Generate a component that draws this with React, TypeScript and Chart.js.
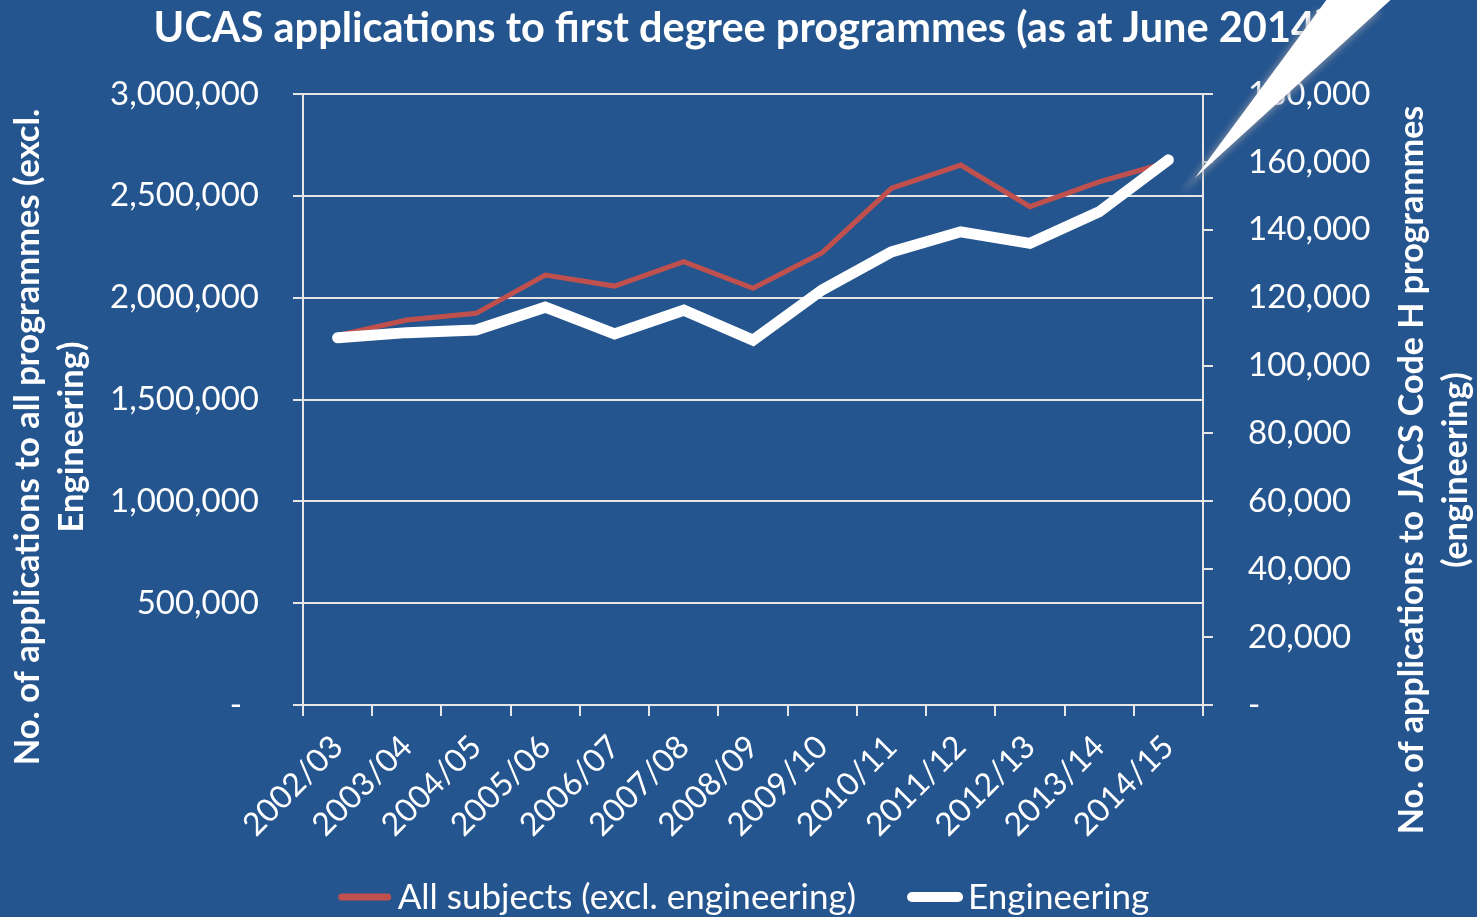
import React, { useEffect, useRef } from 'react';
import { Chart, registerables } from 'chart.js';

Chart.register(...registerables);

const categories = ['2002/03', '2003/04', '2004/05', '2005/06', '2006/07', '2007/08', '2008/09', '2009/10', '2010/11', '2011/12', '2012/13', '2013/14', '2014/15'];
const allSubjects = [1815000, 1890000, 1923000, 2111000, 2057000, 2177000, 2046000, 2221000, 2537000, 2651000, 2447000, 2569000, 2665000];
const engineering = [108200, 109700, 110500, 117200, 109300, 116300, 107500, 122300, 133500, 139400, 136000, 145300, 160600];

const titleText = 'UCAS applications to first degree programmes (as at June 2014)';
const leftTitle = ['No. of applications to all programmes (excl.', 'Engineering)'];
const rightTitle = ['No. of applications to JACS Code H programmes', '(engineering)'];
const seriesNames = ['All subjects (excl. engineering)', 'Engineering'];

const BG = '#25558F';
const RED = '#C0504D';
const FONT = 'Lato, "Open Sans", sans-serif';

const fmt = (v: number) => Math.round(v).toLocaleString('en-US');

const decorPlugin = {
  id: 'decor',
  beforeDraw(chart: any) {
    const ctx = chart.ctx;
    ctx.save();
    ctx.fillStyle = BG;
    ctx.fillRect(0, 0, chart.width, chart.height);
    ctx.restore();
  },
  afterDraw(chart: any) {
    const ctx = chart.ctx;
    const area = chart.chartArea;
    ctx.save();
    ctx.fillStyle = '#FFFFFF';
    ctx.textAlign = 'center';
    ctx.textBaseline = 'middle';
    // title
    ctx.font = `bold 41.5px ${FONT}`;
    ctx.fillText(titleText, 740, 29);

    // left axis title
    ctx.font = `bold 34.5px ${FONT}`;
    const ly = 437;
    ctx.save();
    ctx.translate(28, ly);
    ctx.rotate(-Math.PI / 2);
    ctx.fillText(leftTitle[0], 0, 0);
    ctx.restore();
    ctx.save();
    ctx.translate(72, ly);
    ctx.rotate(-Math.PI / 2);
    ctx.fillText(leftTitle[1], 0, 0);
    ctx.restore();

    // right axis title
    ctx.font = `bold 34px ${FONT}`;
    const ry = 470;
    ctx.save();
    ctx.translate(1412, ry);
    ctx.rotate(-Math.PI / 2);
    ctx.fillText(rightTitle[0], 0, 0);
    ctx.restore();
    ctx.save();
    ctx.translate(1456, ry);
    ctx.rotate(-Math.PI / 2);
    ctx.fillText(rightTitle[1], 0, 0);
    ctx.restore();

    // legend
    ctx.font = `35px ${FONT}`;
    ctx.textAlign = 'left';
    const ds = chart.data.datasets;
    const sw = 54;
    const gap = 6;
    const itemGap = 52;
    const widths = ds.map((d: any) => sw + gap + ctx.measureText(d.label).width);
    const total = widths.reduce((a: number, b: number) => a + b, 0) + itemGap * (ds.length - 1);
    let x = chart.width / 2 + 5 - total / 2;
    const yL = 897;
    ds.forEach((d: any, i: number) => {
      ctx.strokeStyle = d.borderColor;
      ctx.lineWidth = d.borderWidth > 6 ? 10 : 7;
      ctx.lineCap = 'round';
      ctx.beginPath();
      ctx.moveTo(x + 4, yL);
      ctx.lineTo(x + sw - 4, yL);
      ctx.stroke();
      ctx.fillStyle = '#FFFFFF';
      ctx.fillText(d.label, x + sw + gap, yL + 1);
      x += widths[i] + itemGap;
    });

    // callout wedge decoration (top right)
    ctx.save();
    ctx.shadowColor = 'rgba(140,150,165,0.75)';
    ctx.shadowBlur = 6;
    ctx.shadowOffsetX = -14;
    ctx.shadowOffsetY = 16;
    ctx.fillStyle = '#FFFFFF';
    ctx.beginPath();
    ctx.moveTo(area.right - 8, 178);
    ctx.lineTo(1330, -5);
    ctx.lineTo(1396, -5);
    ctx.closePath();
    ctx.fill();
    ctx.restore();
    ctx.restore();
  },
};

export default function App() {
  const ref = useRef<HTMLCanvasElement | null>(null);
  useEffect(() => {
    document.body.style.margin = '0';
    const canvas = ref.current!;
    const chart = new Chart(canvas, {
      type: 'line',
      data: {
        labels: categories,
        datasets: [
          {
            label: seriesNames[0],
            data: allSubjects,
            yAxisID: 'y',
            borderColor: RED,
            backgroundColor: RED,
            borderWidth: 5,
            pointRadius: 0,
            tension: 0,
            order: 1,
          },
          {
            label: seriesNames[1],
            data: engineering,
            yAxisID: 'y1',
            borderColor: '#FFFFFF',
            backgroundColor: '#FFFFFF',
            borderWidth: 11,
            borderCapStyle: 'round',
            pointRadius: 0,
            tension: 0,
            order: 0,
          },
        ],
      },
      options: {
        responsive: false,
        animation: false,
        devicePixelRatio: 1,
        layout: { padding: { top: 94, left: 0, right: 0, bottom: 0 } },
        plugins: {
          legend: { display: false },
          title: { display: false },
          tooltip: { enabled: false },
        },
        scales: {
          x: {
            type: 'category',
            offset: true,
            grid: {
              offset: true,
              drawOnChartArea: false,
              drawTicks: true,
              tickLength: 11,
              color: '#E6E6E6',
              lineWidth: 2,
            },
            border: { display: true, color: '#E6E6E6', width: 2 },
            ticks: {
              color: '#FFFFFF',
              font: { family: FONT, size: 32 },
              minRotation: 45,
              maxRotation: 45,
              padding: 12,
              autoSkip: false,
            },
            afterFit(scale: any) {
              scale.height = 917 - 705;
            },
          },
          y: {
            position: 'left',
            min: 0,
            max: 3000000,
            ticks: {
              stepSize: 500000,
              color: '#FFFFFF',
              font: { family: FONT, size: 33 },
              padding: 34,
              callback: (v: any) => (Number(v) === 0 ? '-  ' : fmt(Number(v))),
            },
            grid: {
              color: '#E6E6E6',
              lineWidth: 2,
              drawTicks: true,
              tickLength: 10,
            },
            border: { display: true, color: '#E6E6E6', width: 2 },
            afterFit(scale: any) {
              scale.width = 303;
            },
          },
          y1: {
            position: 'right',
            min: 0,
            max: 180000,
            ticks: {
              stepSize: 20000,
              color: '#FFFFFF',
              font: { family: FONT, size: 33 },
              padding: 35,
              callback: (v: any) => (Number(v) === 0 ? '-' : fmt(Number(v))),
            },
            grid: {
              drawOnChartArea: false,
              color: '#E6E6E6',
              lineWidth: 2,
              drawTicks: true,
              tickLength: 10,
            },
            border: { display: true, color: '#E6E6E6', width: 2 },
            afterFit(scale: any) {
              scale.width = 1477 - 1203;
            },
          },
        },
      },
      plugins: [decorPlugin],
    } as any);
    return () => chart.destroy();
  }, []);

  return (
    <div style={{ position: 'fixed', left: 0, top: 0, width: 1477, height: 917, background: BG }}>
      <canvas ref={ref} width={1477} height={917} style={{ display: 'block', width: 1477, height: 917 }} />
    </div>
  );
}
